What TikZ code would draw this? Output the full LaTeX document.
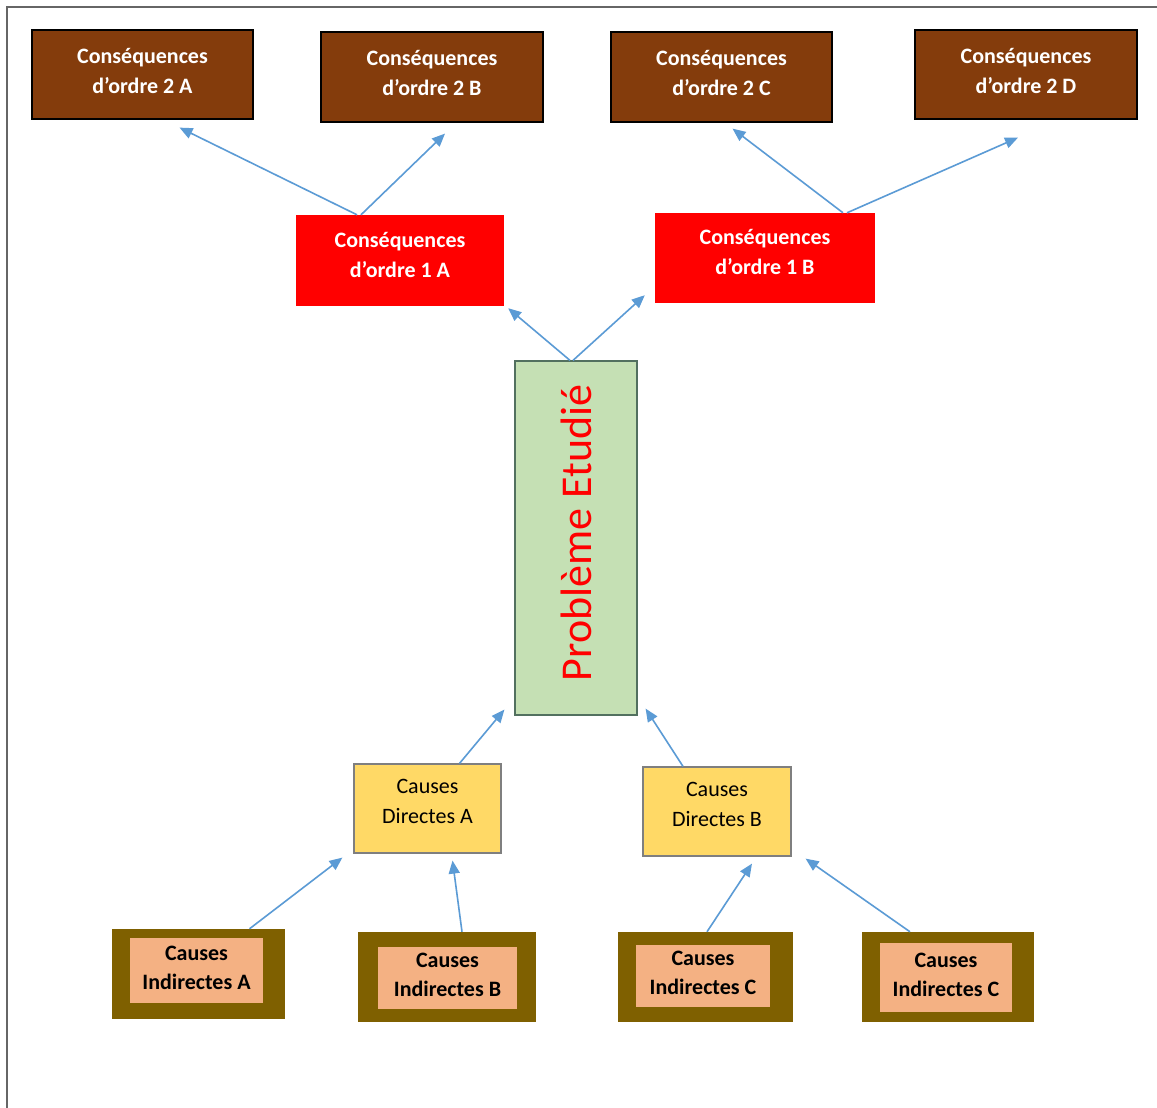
\documentclass[tikz,border=0pt]{standalone}
\usepackage{fontspec}
\setmainfont{Carlito}
\usetikzlibrary{arrows.meta}

\definecolor{brownbox}{HTML}{843C0C}
\definecolor{redbox}{HTML}{FF0000}
\definecolor{greenbox}{HTML}{C5E0B4}
\definecolor{greenline}{HTML}{52705F}
\definecolor{yellowbox}{HTML}{FFD966}
\definecolor{yellowline}{HTML}{7F7F7F}
\definecolor{olivebox}{HTML}{7F6000}
\definecolor{salmonbox}{HTML}{F4B183}
\definecolor{arrowblue}{HTML}{5B9BD5}
\definecolor{framegray}{HTML}{666666}

\begin{document}
\begin{tikzpicture}[x=1pt,y=-1pt,
  basebox/.style={rectangle, inner sep=0pt},
  boxtext/.style={inner sep=0pt, align=center, font=\fontsize{22}{30}\selectfont},
  cons2/.style={basebox, fill=brownbox, draw=black, line width=1.2pt},
  cons1/.style={basebox, fill=redbox},
  constext/.style={boxtext, text=white, font=\fontsize{22}{30}\selectfont\bfseries},
  problem/.style={basebox, fill=greenbox, draw=greenline, line width=1.2pt},
  direct/.style={basebox, fill=yellowbox, draw=yellowline, line width=1.2pt},
  directtext/.style={boxtext},
  indirout/.style={basebox, fill=olivebox, minimum height=90},
  indirin/.style={basebox, fill=salmonbox},
  indirtext/.style={boxtext, font=\fontsize{22}{29}\selectfont\bfseries},
  arr/.style={draw=arrowblue, line width=1.6pt,
    -{Triangle[length=13pt,width=11pt]}},
  frame/.style={draw=framegray, line width=1.6pt}
]
\useasboundingbox (0,0) rectangle (1157,1108);
\fill[white] (0,0) rectangle (1157,1108);
\draw[frame] (1157,7) -- (7,7) -- (7,1108);

% second-order consequences
\node[cons2, minimum width=221, minimum height=89] (c2a) at (142.5,74.5) {};
\node[cons2, minimum width=222, minimum height=90] (c2b) at (432,77) {};
\node[cons2, minimum width=221, minimum height=90] (c2c) at (721.5,77) {};
\node[cons2, minimum width=222, minimum height=89] (c2d) at (1026,74.5) {};
\node[constext] (t2a) at ([yshift=4pt]c2a.center) {Conséquences\\d’ordre 2 A};
\node[constext] (t2b) at ([yshift=4pt]c2b.center) {Conséquences\\d’ordre 2 B};
\node[constext] (t2c) at ([yshift=4pt]c2c.center) {Conséquences\\d’ordre 2 C};
\node[constext] (t2d) at ([yshift=4pt]c2d.center) {Conséquences\\d’ordre 2 D};

% first-order consequences
\node[cons1, minimum width=208, minimum height=91] (c1a) at (400,260.5) {};
\node[cons1, minimum width=220, minimum height=90] (c1b) at (765,258) {};
\node[constext] (t1a) at ([yshift=6pt]c1a.center) {Conséquences\\d’ordre 1 A};
\node[constext] (t1b) at ([yshift=6pt]c1b.center) {Conséquences\\d’ordre 1 B};

% central problem
\node[problem, minimum width=122, minimum height=354] (pb) at (576,538) {};
\node[text=redbox, font=\fontsize{44}{52}\selectfont, rotate=90, inner sep=0pt] (pbt) at (576,533) {Problème Etudié};

% direct causes
\node[direct, minimum width=147, minimum height=89] (da) at (427.5,808.5) {};
\node[direct, minimum width=148, minimum height=89] (db) at (717,811.5) {};
\node[directtext] (tda) at ([yshift=7pt]da.center) {Causes\\Directes A};
\node[directtext] (tdb) at ([yshift=7pt]db.center) {Causes\\Directes B};

% indirect causes
\node[indirout, minimum width=173] (ia) at (198.5,974) {};
\node[indirin, minimum width=133, minimum height=65] (iai) at (196.5,970.5) {};
\node[indirout, minimum width=178] (ib) at (447,977) {};
\node[indirin, minimum width=139, minimum height=62] (ibi) at (447.5,978) {};
\node[indirout, minimum width=175] (ic) at (705.5,977) {};
\node[indirin, minimum width=134, minimum height=62] (ici) at (703,976) {};
\node[indirout, minimum width=172] (id) at (948,977) {};
\node[indirin, minimum width=132, minimum height=69] (idi) at (946,977.5) {};
\node[indirtext] (tia) at ([yshift=3pt]iai.center) {Causes\\Indirectes A};
\node[indirtext] (tib) at ([yshift=3pt]ibi.center) {Causes\\Indirectes B};
\node[indirtext] (tic) at ([yshift=3pt]ici.center) {Causes\\Indirectes C};
\node[indirtext] (tid) at ([yshift=3pt]idi.center) {Causes\\Indirectes C};

% connectors
\draw[arr] ([xshift=-43pt]c1a.north) -- ([xshift=37pt,yshift=-8pt]c2a.south);
\draw[arr] ([xshift=-39pt]c1a.north) -- ([xshift=13pt,yshift=-11pt]c2b.south);
\draw[arr] ([xshift=78pt]c1b.north) -- ([xshift=11pt,yshift=-6pt]c2c.south);
\draw[arr] ([xshift=82pt]c1b.north) -- ([xshift=-8pt,yshift=-18pt]c2d.south);
\draw[arr] ([xshift=-6pt]pb.north) -- ([xshift=4pt,yshift=-2pt]c1a.south east);
\draw[arr] ([xshift=-3pt]pb.north) -- ([xshift=-10pt,yshift=8pt]c1b.south west);
\draw[arr] ([xshift=32pt]da.north) -- ([xshift=-10pt,yshift=6pt]pb.south west);
\draw[arr] ([xshift=-34pt]db.north) -- ([xshift=8pt,yshift=7pt]pb.south east);
\draw[arr] ([xshift=51pt]ia.north) -- ([xshift=-11pt,yshift=-4pt]da.south west);
\draw[arr] ([xshift=15pt]ib.north) -- ([xshift=25pt,yshift=-7pt]da.south);
\draw[arr] ([xshift=1.5pt]ic.north) -- ([xshift=35pt,yshift=-7pt]db.south);
\draw[arr] ([xshift=-38pt]id.north) -- ([xshift=14pt,yshift=-2pt]db.south east);
\end{tikzpicture}
\end{document}
